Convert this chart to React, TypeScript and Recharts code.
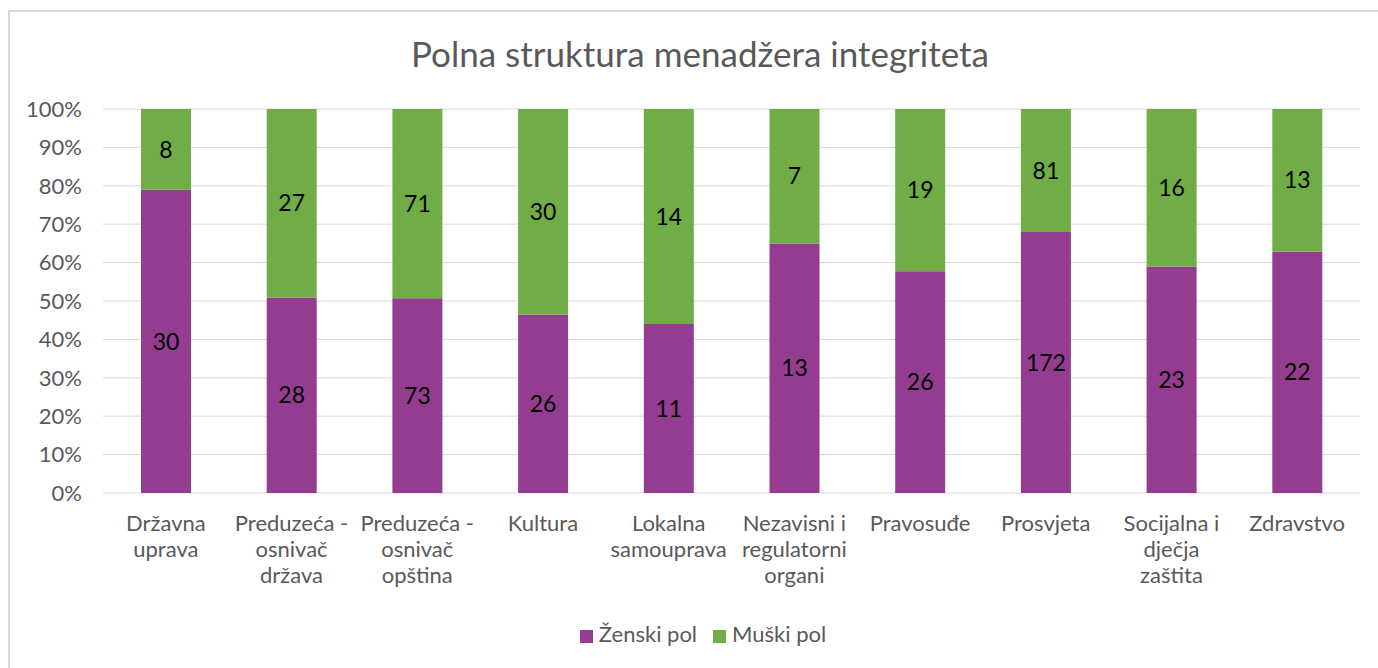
import React from "react";
import { BarChart, Bar, XAxis, YAxis, CartesianGrid, Legend, LabelList } from "recharts";

const categories = [
    "Državna uprava",
    "Preduzeća - osnivač država",
    "Preduzeća - osnivač opština",
    "Kultura",
    "Lokalna samouprava",
    "Nezavisni i regulatorni organi",
    "Pravosuđe",
    "Prosvjeta",
    "Socijalna i dječja zaštita",
    "Zdravstvo",
];
const zenski = [30, 28, 73, 26, 11, 13, 26, 172, 23, 22];
const muski = [8, 27, 71, 30, 14, 7, 19, 81, 16, 13];
const yTicks = [0, 0.1, 0.2, 0.3, 0.4, 0.5, 0.6, 0.7, 0.8, 0.9, 1];

const data = categories.map((name, i) => ({ name, zenski: zenski[i], muski: muski[i] }));

const FONT = "Lato, 'Open Sans', sans-serif";
const GRAY = "#595959";

// Excel-style wrapping: greedy, about 11 chars per line
function wrap(label: string, max = 11): string[] {
    const lines: string[] = [];
    let cur = "";
    for (const w of label.split(" ")) {
        const next = cur ? cur + " " + w : w;
        if (next.length > max && cur) {
            lines.push(cur);
            cur = w;
        } else {
            cur = next;
        }
    }
    if (cur) lines.push(cur);
    return lines;
}

function CategoryTick(props: any) {
    const { x, y, payload } = props;
    const lines = wrap(payload.value);
    return (
        <text x={x} y={y + 30} textAnchor="middle" fill={GRAY} fontSize={22} fontFamily={FONT}>
            {lines.map((l, i) => (
                <tspan key={i} x={x} dy={i === 0 ? 0 : 26}>
                    {l}
                </tspan>
            ))}
        </text>
    );
}

const legendOrder: Record<string, number> = { zenski: 0, muski: 1 };

export default function App() {
    return (
        <div style={{ position: "absolute", left: 8, top: 10, width: 1370, height: 658, borderTop: "2px solid #d9d9d9", borderLeft: "2px solid #d9d9d9", boxSizing: "border-box", fontFamily: FONT, background: "#fff" }}>
            <style>{"body{margin:0;overflow:hidden}"}</style>
            <div style={{ position: "absolute", top: 20, left: 0, width: 1380, textAlign: "center", fontSize: 35, color: GRAY }}>
                Polna struktura menadžera integriteta
            </div>
            <BarChart
                width={1368}
                height={656}
                data={data}
                stackOffset="expand"
                barSize={50}
                margin={{ top: 97, right: 18, left: 0, bottom: 21 }}
            >
                <CartesianGrid vertical={false} stroke="#d9d9d9" />
                <XAxis dataKey="name" axisLine={false} tickLine={false} interval={0} height={127} tick={<CategoryTick />} />
                <YAxis
                    width={93}
                    ticks={yTicks}
                    domain={[0, 1]}
                    axisLine={false}
                    tickLine={false}
                    tickMargin={15}
                    tickFormatter={(v: number) => `${Math.round(v * 100)}%`}
                    tick={{ fill: GRAY, fontSize: 22, fontFamily: FONT }}
                />
                <Legend
                    iconType="square"
                    iconSize={13}
                    itemSorter={(item: any) => legendOrder[item.dataKey] ?? 0}
                    wrapperStyle={{ left: 26, fontSize: 22, color: GRAY, fontFamily: FONT }}
                    formatter={(v: string) => <span style={{ color: GRAY, marginLeft: 2, marginRight: 6 }}>{v}</span>}
                />
                <Bar dataKey="zenski" name="Ženski pol" stackId="a" fill="#943c8f" isAnimationActive={false}>
                    <LabelList dataKey="zenski" position="center" fill="#000" fontSize={23} fontFamily={FONT} />
                </Bar>
                <Bar dataKey="muski" name="Muški pol" stackId="a" fill="#70ad47" isAnimationActive={false}>
                    <LabelList dataKey="muski" position="center" fill="#000" fontSize={23} fontFamily={FONT} />
                </Bar>
            </BarChart>
        </div>
    );
}
